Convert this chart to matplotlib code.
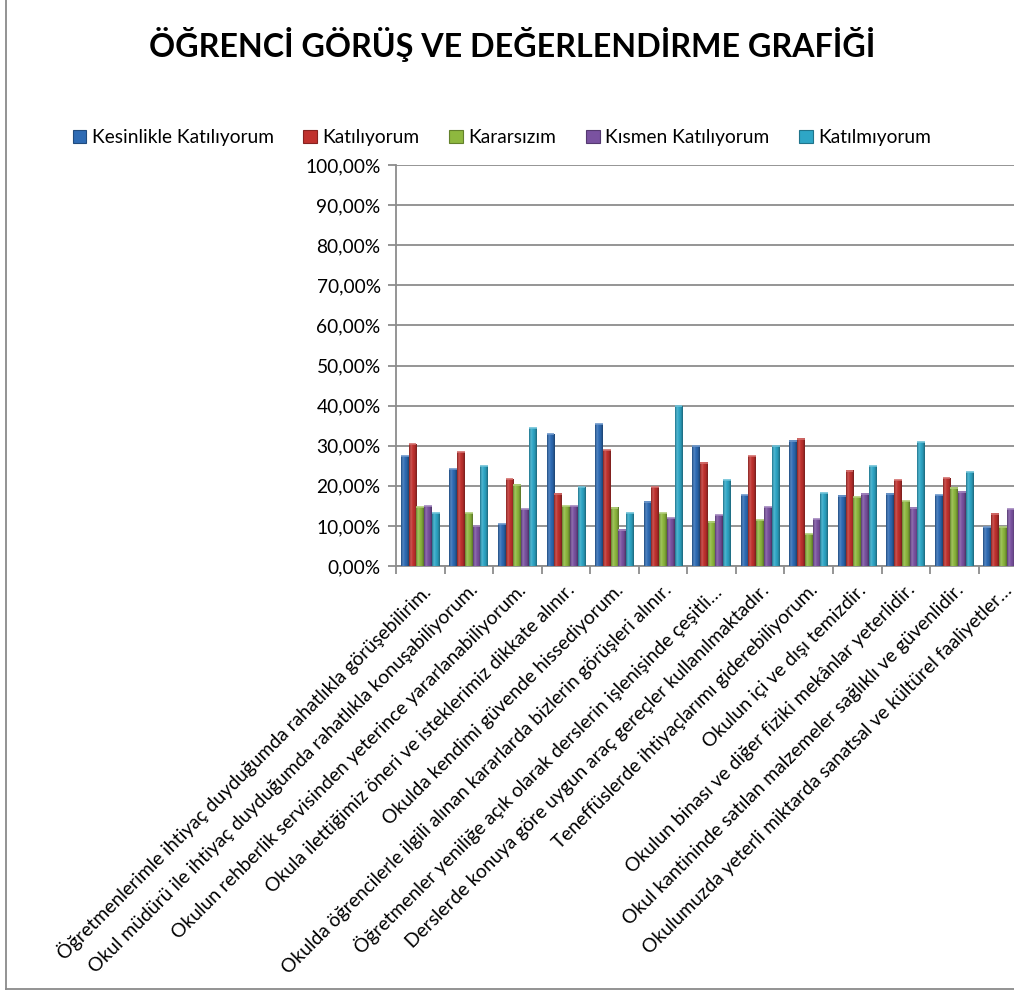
import matplotlib
matplotlib.use('Agg')
import matplotlib.pyplot as plt
import numpy as np
from matplotlib.colors import LinearSegmentedColormap, to_rgb
from matplotlib.ticker import FuncFormatter, FixedLocator
from matplotlib.lines import Line2D
from matplotlib.patches import Patch

plt.rcParams['font.family'] = ['Lato', 'DejaVu Sans']

title = "ÖĞRENCİ GÖRÜŞ VE DEĞERLENDİRME GRAFİĞİ"

categories = [
    "Öğretmenlerimle ihtiyaç duyduğumda rahatlıkla görüşebilirim.",
    "Okul müdürü ile ihtiyaç duyduğumda rahatlıkla konuşabiliyorum.",
    "Okulun rehberlik servisinden yeterince yararlanabiliyorum.",
    "Okula ilettiğimiz öneri ve isteklerimiz dikkate alınır.",
    "Okulda kendimi güvende hissediyorum.",
    "Okulda öğrencilerle ilgili alınan kararlarda bizlerin görüşleri alınır.",
    "Öğretmenler yeniliğe açık olarak derslerin işlenişinde çeşitli…",
    "Derslerde konuya göre uygun araç gereçler kullanılmaktadır.",
    "Teneffüslerde ihtiyaçlarımı giderebiliyorum.",
    "Okulun içi ve dışı temizdir.",
    "Okulun binası ve diğer fiziki mekânlar yeterlidir.",
    "Okul kantininde satılan malzemeler sağlıklı ve güvenlidir.",
    "Okulumuzda yeterli miktarda sanatsal ve kültürel faaliyetler…",
]

series_names = ["Kesinlikle Katılıyorum", "Katılıyorum", "Kararsızım",
                "Kısmen Katılıyorum", "Katılmıyorum"]

kesinlikle_katiliyorum = [27.4, 24.1, 10.4, 32.9, 35.4, 16.0, 29.9, 17.7, 31.2, 17.5, 18.0, 17.7, 9.7]
katiliyorum = [30.3, 28.4, 21.6, 18.0, 28.9, 19.7, 25.7, 27.4, 31.7, 23.7, 21.4, 21.9, 13.0]
kararsizim = [14.7, 13.2, 20.2, 14.9, 14.5, 13.2, 11.0, 11.4, 7.9, 17.2, 16.2, 19.5, 9.7]
kismen_katiliyorum = [14.9, 9.9, 14.1, 14.9, 9.0, 11.9, 12.7, 14.7, 11.7, 18.0, 14.5, 18.5, 14.2]
katilmiyorum = [13.2, 24.9, 34.4, 19.7, 13.2, 39.8, 21.4, 29.9, 18.2, 24.9, 30.9, 23.4, 54.6]

series_values = [kesinlikle_katiliyorum, katiliyorum, kararsizim,
                 kismen_katiliyorum, katilmiyorum]
base_colors = ["#2E6BB4", "#C0312E", "#8EB83F", "#7A52A0", "#2EA6C6"]

W, H = 1014, 991
fig = plt.figure(figsize=(W / 100, H / 100), dpi=100)
fig.patch.set_facecolor('white')

# chart area border (left and bottom visible)
fig.add_artist(Line2D([6 / W, 6 / W], [2 / H, 1.0], color='#8A8A8A', lw=1.3,
                      transform=fig.transFigure))
fig.add_artist(Line2D([6 / W, 1.0], [2 / H, 2 / H], color='#8A8A8A', lw=1.3,
                      transform=fig.transFigure))

left_px, right_px = 396, 396 + 13 * 48.55
top_px, bottom_px = 165, 566
ax = fig.add_axes([left_px / W, 1 - bottom_px / H,
                   (right_px - left_px) / W, (bottom_px - top_px) / H])

n_cat = len(categories)
n_ser = len(series_values)
x = np.arange(n_cat)
bw = 0.8 / n_ser


def shade(c, f):
    r = np.array(to_rgb(c))
    if f < 1:
        return tuple(r * f)
    return tuple(r + (1 - r) * (f - 1))


for i, (vals, col) in enumerate(zip(series_values, base_colors)):
    xs = x - 0.4 + bw * (i + 0.5)
    v = np.array(vals) / 100.0
    bars = ax.bar(xs, v, width=bw, color=col, edgecolor='none', zorder=3)
    cmap = LinearSegmentedColormap.from_list(
        'g%d' % i, [shade(col, 0.72), shade(col, 1.18), shade(col, 1.0),
                    shade(col, 0.9), shade(col, 0.62)])
    grad = np.linspace(0, 1, 32).reshape(1, -1)
    for b in bars:
        x0 = b.get_x()
        ax.imshow(grad, cmap=cmap, extent=[x0, x0 + b.get_width(), 0, b.get_height()],
                  aspect='auto', zorder=4, interpolation='bilinear')
        ax.plot([x0, x0 + b.get_width()], [b.get_height()] * 2,
                color=shade(col, 1.3), lw=1.2, zorder=5, solid_capstyle='butt')

ax.set_xlim(-0.5, n_cat - 0.5)
ax.set_ylim(0, 1)

ax.yaxis.set_major_locator(FixedLocator(np.arange(0, 1.01, 0.1)))
ax.yaxis.set_major_formatter(FuncFormatter(lambda v, p: f"{v * 100:.2f}%".replace('.', ',')))
ax.grid(axis='y', color='#8C8C8C', lw=1.3, zorder=0)
ax.set_axisbelow(True)

ax.set_xticks(x)
ax.set_xticklabels(categories, rotation=45, ha='right', rotation_mode='anchor',
                   fontsize=13.9, color='black')
ax.tick_params(axis='x', which='major', length=0, pad=11)
ax.set_xticks(np.arange(-0.5, n_cat, 1.0), minor=True)
ax.tick_params(axis='x', which='minor', length=6, color='#8C8C8C', width=1.3)
ax.tick_params(axis='y', length=6, color='#8C8C8C', width=1.3, labelsize=13.8,
               labelcolor='black', pad=5)

for s in ['top', 'right']:
    ax.spines[s].set_visible(False)
for s in ['left', 'bottom']:
    ax.spines[s].set_color('#8C8C8C')
    ax.spines[s].set_linewidth(1.3)

fig.text(512 / W, 1 - 45 / H, title, ha='center', va='center',
         fontsize=23.2, fontweight='bold', color='black')

handles = [Patch(facecolor=c, edgecolor=shade(c, 0.7), lw=0.8) for c in base_colors]
fig.legend(handles, series_names, loc='center', bbox_to_anchor=(502 / W, 1 - 138 / H),
           ncol=5, frameon=False, fontsize=13.8, handlelength=0.7, handleheight=0.7,
           handletextpad=0.3, columnspacing=1.55, borderaxespad=0)

fig.savefig('out.png', dpi=100)
